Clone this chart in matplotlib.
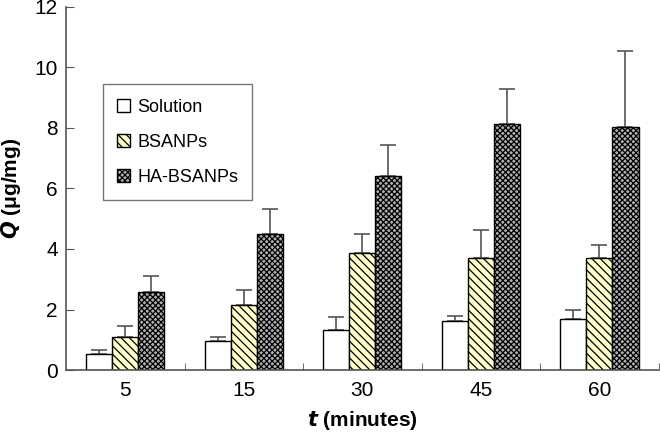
import numpy as np
import matplotlib.pyplot as plt

plt.rcParams["font.family"] = ["Liberation Sans", "DejaVu Sans"]
plt.rcParams["hatch.linewidth"] = 0.9

times = ["5", "15", "30", "45", "60"]
solution = [0.53, 0.96, 1.32, 1.63, 1.70]
solution_err = [0.15, 0.14, 0.43, 0.15, 0.30]
bsanps = [1.10, 2.14, 3.85, 3.69, 3.69]
bsanps_err = [0.37, 0.51, 0.65, 0.95, 0.44]
ha_bsanps = [2.58, 4.50, 6.41, 8.11, 8.03]
ha_bsanps_err = [0.52, 0.82, 1.02, 1.17, 2.49]

series = [
    ("Solution", solution, solution_err, "white", ""),
    ("BSANPs", bsanps, bsanps_err, "#ffffcc", "\\\\\\\\"),
    ("HA-BSANPs", ha_bsanps, ha_bsanps_err, "#b0b0b0", "xxxxxx"),
]

fig = plt.figure(figsize=(6.6, 4.37), dpi=100)
ax = fig.add_axes([0.1, 0.153, 0.898, 0.832])

x = np.arange(len(times))
w = 0.22
for i, (name, vals, errs, fc, hatch) in enumerate(series):
    pos = x + (i - 1) * w
    ax.bar(pos, vals, w, color=fc, edgecolor="black", hatch=hatch,
           linewidth=1.0, label=name, zorder=2)
    ax.errorbar(pos, vals, yerr=[np.zeros(len(errs)), errs], fmt="none",
                ecolor="#555555", elinewidth=1.2, capsize=6, capthick=1.2, zorder=1)

ax.set_xlim(-0.5, 4.5)
ax.set_ylim(0, 12)
ax.set_yticks(range(0, 13, 2))
ax.set_xticks(x)
ax.set_xticklabels(times)
ax.set_xticks(np.arange(0.5, 5, 1), minor=True)
ax.tick_params(axis="x", which="major", length=0, labelsize=15, pad=8)
ax.tick_params(axis="x", which="minor", direction="in", length=5, color="#555555")
ax.tick_params(axis="y", direction="in", length=6, labelsize=15, color="#555555", pad=6)
for s in ["top", "right"]:
    ax.spines[s].set_visible(False)
for s in ["left", "bottom"]:
    ax.spines[s].set_color("#555555")
    ax.spines[s].set_linewidth(1.2)

ax.set_ylabel(r"$\mathbfit{Q}$ (μg/mg)", fontsize=15, fontweight="bold", labelpad=8)
ax.set_xlabel(r"$\mathbfit{t}$ (minutes)", fontsize=15, fontweight="bold", labelpad=6)

leg = ax.legend(loc="upper left", bbox_to_anchor=(0.062, 0.786), borderaxespad=0,
                fontsize=13, fancybox=False, edgecolor="#555555", handlelength=0.7,
                handleheight=0.7, labelspacing=1.0, borderpad=0.8, handletextpad=0.4)
leg.get_frame().set_linewidth(1.0)

fig.savefig("out.png", dpi=100)
